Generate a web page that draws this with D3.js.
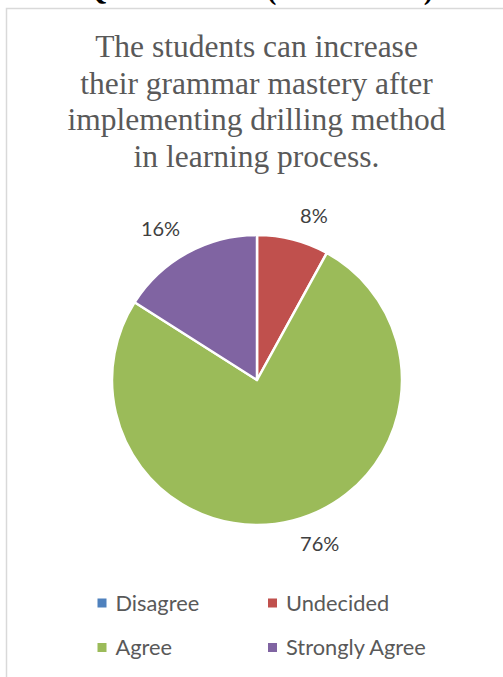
<!DOCTYPE html>
<html>
<head>
<meta charset="utf-8">
<script src="https://cdn.jsdelivr.net/npm/d3@7"></script>
<style>
  html, body { margin: 0; padding: 0; background: #ffffff; }
  svg { display: block; }
</style>
</head>
<body>
<svg id="chart" width="503" height="677"></svg>
<script>
// Survey responses for statement 7
const categories = ["Disagree", "Undecided", "Agree", "Strongly Agree"];
const percentages = [0, 8, 76, 16];
const sliceColors = ["#4F81BD", "#C0504D", "#9BBB59", "#8064A2"];
const headingText = "Questionnaire (Statement 7)";
const titleLines = [
  "The students can increase",
  "their grammar mastery after",
  "implementing drilling method",
  "in learning process."
];

const svg = d3.select("#chart");
const W = 503, H = 677;

// Heading above the chart area (sits at the very top edge)
svg.append("text")
  .attr("x", 259)
  .attr("y", -1.5)
  .attr("text-anchor", "middle")
  .attr("font-family", "'Liberation Serif', 'Times New Roman', serif")
  .attr("font-weight", "bold")
  .attr("font-size", 29)
  .attr("fill", "#000")
  .text(headingText);

// Chart area frame
svg.append("rect")
  .attr("x", 6.5)
  .attr("y", 8.5)
  .attr("width", W + 20)
  .attr("height", H + 20)
  .attr("fill", "none")
  .attr("stroke", "#d9d9d9")
  .attr("stroke-width", 1.5);

// Title
const title = svg.append("text")
  .attr("text-anchor", "middle")
  .attr("font-family", "'Liberation Serif', 'Times New Roman', serif")
  .attr("font-size", 31.5)
  .attr("fill", "#595959");
titleLines.forEach((line, i) => {
  title.append("tspan")
    .attr("x", 256.5)
    .attr("y", 57.3 + i * 36.45)
    .text(line);
});

// Pie
const cx = 257, cy = 380, radius = 145;
const pie = d3.pie().sort(null).value(d => d.value).startAngle(0).endAngle(2 * Math.PI);
const data = categories.map((c, i) => ({ name: c, value: percentages[i], color: sliceColors[i] }));
const arcs = pie(data);
const arc = d3.arc().innerRadius(0).outerRadius(radius);

const g = svg.append("g").attr("transform", `translate(${cx},${cy})`);
g.selectAll("path.slice")
  .data(arcs.filter(a => a.data.value > 0))
  .join("path")
  .attr("class", "slice")
  .attr("d", arc)
  .attr("fill", d => d.data.color)
  .attr("stroke", "#ffffff")
  .attr("stroke-width", 2.5)
  .attr("stroke-linejoin", "round");

// Data labels placed just outside the slice edge at its mid-angle
const labelFont = "Lato, 'Open Sans', sans-serif";
const labelSize = 20;
const capH = 14;
const gapX = 7, gapY = 17;
g.selectAll("text.value")
  .data(arcs.filter(a => a.data.value > 0))
  .join("text")
  .attr("class", "value")
  .attr("font-family", labelFont)
  .attr("font-size", labelSize)
  .attr("fill", "#404040")
  .each(function (d) {
    const mid = (d.startAngle + d.endAngle) / 2;
    const sx = Math.sin(mid), sy = -Math.cos(mid);
    const px = radius * sx, py = radius * sy;
    const right = sx >= 0;
    const below = sy > 0;
    d3.select(this)
      .attr("text-anchor", right ? "start" : "end")
      .attr("x", px + (right ? gapX : -gapX))
      .attr("y", below ? py + gapY + capH : py - gapY)
      .text(d.data.value + "%");
  });

// Legend: two columns, two rows
const legendX0 = 97.5, legendColW = 170.5, legendY0 = 598.5, legendRowH = 44.5;
const legend = svg.append("g");
const items = legend.selectAll("g.item")
  .data(data)
  .join("g")
  .attr("class", "item")
  .attr("transform", (d, i) => `translate(${legendX0 + (i % 2) * legendColW},${legendY0 + Math.floor(i / 2) * legendRowH})`);
items.append("rect")
  .attr("width", 9)
  .attr("height", 9)
  .attr("fill", d => d.color);
items.append("text")
  .attr("x", 18)
  .attr("y", 12.3)
  .attr("font-family", labelFont)
  .attr("font-size", 21.8)
  .attr("fill", "#595959")
  .text(d => d.name);
</script>
</body>
</html>
